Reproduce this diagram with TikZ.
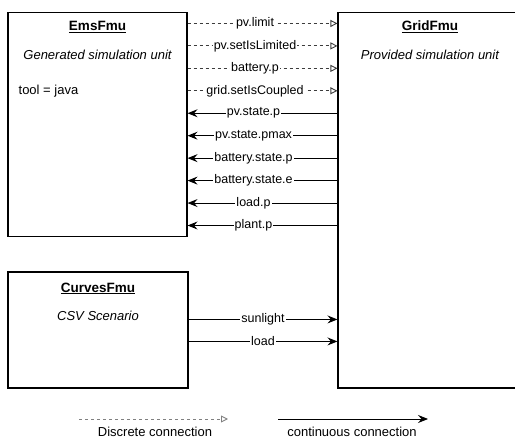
\documentclass[tikz,border=0pt]{standalone}
\usepackage{fontspec}
\setmainfont{Liberation Sans}
\usetikzlibrary{arrows.meta, positioning, calc}
\definecolor{lineGray}{RGB}{60, 60, 60}

\begin{document}
\begin{tikzpicture}[
    x=1pt, y=1pt,
    % --- Unit boxes ---
    unitBox/.style={rectangle, draw=black, line width=1.1pt, fill=white, inner sep=0pt},
    boxText/.style={font=\fontsize{13}{15}\selectfont, inner sep=1pt},
    unitTitle/.style={boxText, font=\fontsize{13.5}{15}\selectfont\bfseries},
    unitNote/.style={boxText, font=\fontsize{13}{15}\selectfont\itshape},
    % --- Connections ---
    portLabel/.style={font=\fontsize{12.5}{14}\selectfont, fill=white, inner sep=1pt},
    discrete/.style={draw=lineGray, line width=0.9pt, dash pattern=on 3pt off 3pt,
        -{Triangle[open, length=7pt, width=7pt]}},
    continuous/.style={draw=black, line width=0.9pt,
        -{Stealth[length=10pt, width=8pt, inset=3.5pt]}},
    legendText/.style={font=\fontsize{13}{15}\selectfont, inner sep=1pt}
]
\useasboundingbox (0,0) rectangle (515,440);

% --- Simulation units ---
\node (ems) [unitBox, minimum width=179, minimum height=224] at (97.5,315.5) {};
\node (grid) [unitBox, minimum width=184, minimum height=375.5] at (430,239.75) {};
\node (curves) [unitBox, minimum width=180, minimum height=116] at (98,110) {};

% EmsFmu texts
\node (emsTitle) [unitTitle, below=8pt of ems.north] {\underline{EmsFmu}};
\node (emsNote) [unitNote, below=15pt of emsTitle] {Generated simulation unit};
\node (emsTool) [boxText, anchor=west] at ($(ems.north west)+(10,-79)$) {tool = java};

% GridFmu texts
\node (gridTitle) [unitTitle, below=8pt of grid.north] {\underline{GridFmu}};
\node (gridNote) [unitNote, below=15pt of gridTitle] {Provided simulation unit};

% CurvesFmu texts
\node (curvesTitle) [unitTitle, below=10pt of curves.north] {\underline{CurvesFmu}};
\node (curvesNote) [unitNote, below=14pt of curvesTitle] {CSV Scenario};

% --- EmsFmu -> GridFmu (discrete) ---
\foreach \lbl [count=\i, evaluate=\i as \dy using 11.5+22.45*(\i-1)] in
    {pv.limit, pv.setIsLimited, battery.p, grid.setIsCoupled}
    \draw [discrete] ([yshift=-\dy pt]ems.north east) --
        node [portLabel, pos=0.45] {\lbl} ([yshift=-\dy pt]grid.north west);

% --- GridFmu -> EmsFmu (continuous) ---
\foreach \lbl [count=\i, evaluate=\i as \dy using 11.5+22.45*(\i+3)] in
    {pv.state.p, pv.state.pmax, battery.state.p, battery.state.e, load.p, plant.p}
    \draw [continuous] ([yshift=-\dy pt]grid.north west) --
        node [portLabel, pos=0.56] {\lbl} ([yshift=-\dy pt]ems.north east);

% --- CurvesFmu -> GridFmu (continuous) ---
\draw [continuous] ([yshift=-48pt]curves.north east) --
    node [portLabel] {sunlight} ([yshift=-48pt]curves.north east -| grid.west);
\draw [continuous] ([yshift=-70pt]curves.north east) --
    node [portLabel] {load} ([yshift=-70pt]curves.north east -| grid.west);

% --- Legend ---
\coordinate (discStart) at (79,21);
\coordinate (discEnd) at (228,21);
\coordinate (contStart) at (278,21);
\coordinate (contEnd) at (428,21);
\draw [discrete, draw=gray] (discStart) -- (discEnd);
\draw [continuous] (contStart) -- (contEnd);
\node (discLabel) [legendText] at (155,8) {Discrete connection};
\node (contLabel) [legendText] at (352,8) {continuous connection};

\end{tikzpicture}
\end{document}
